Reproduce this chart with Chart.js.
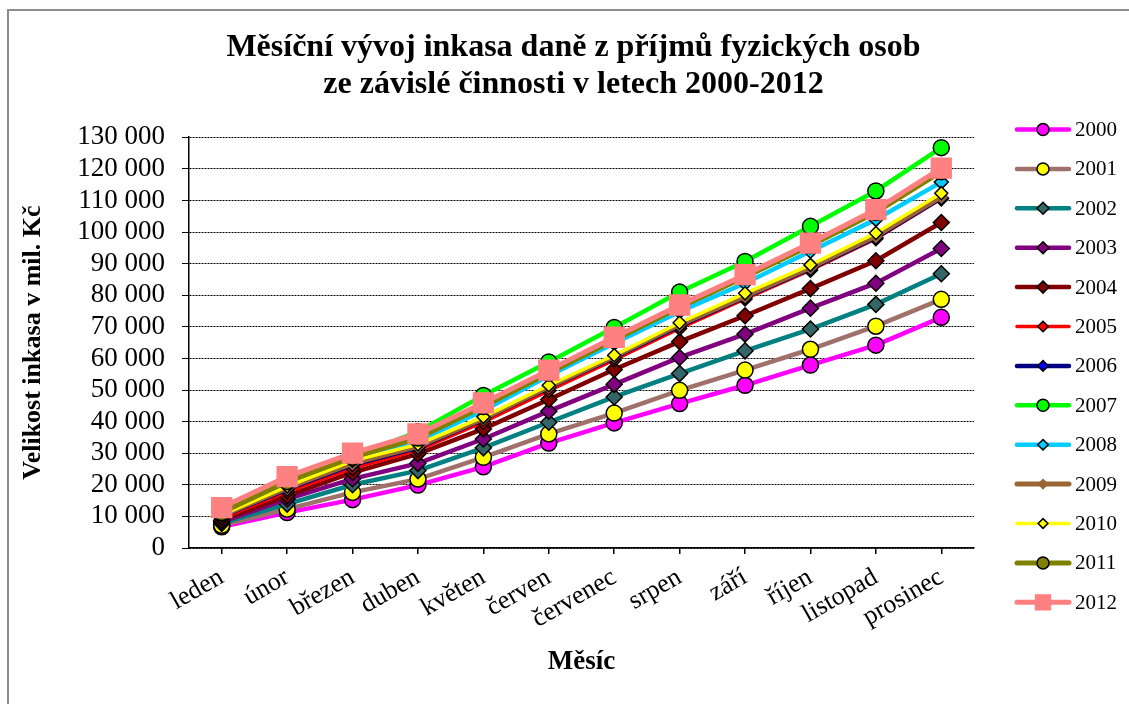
<!DOCTYPE html>
<html>
<head>
<meta charset="utf-8">
<title>Měsíční vývoj inkasa daně</title>
<script src="https://cdn.jsdelivr.net/npm/chart.js"></script>
<style>
  body { margin: 0; background: #fff; }
  #wrap { position: relative; width: 1129px; height: 704px; }
</style>
</head>
<body>
<div id="wrap"><canvas id="chart" width="1129" height="704"></canvas></div>
<script>
// ============================================================
// DATA
// ============================================================

var months = ['leden', 'únor', 'březen', 'duben', 'květen', 'červen',
  'červenec', 'srpen', 'září', 'říjen', 'listopad', 'prosinec'];
var years = ['2000', '2001', '2002', '2003', '2004', '2005', '2006',
  '2007', '2008', '2009', '2010', '2011', '2012'];

var v2000 = [6700, 11200, 15300, 19900, 25700, 33200, 39600, 45700, 51500, 57900, 64200, 73000];
var v2001 = [7200, 12300, 17600, 21800, 28700, 36100, 42700, 49900, 56300, 62900, 70200, 78700];
var v2002 = [7800, 13900, 20000, 24500, 31700, 39800, 47800, 55200, 62400, 69300, 77100, 86800];
var v2003 = [8300, 15500, 21900, 26800, 34500, 43300, 51800, 60300, 67700, 75900, 83800, 94800];
var v2004 = [8800, 16500, 23900, 29800, 37700, 47000, 56500, 65300, 73500, 82100, 90900, 103000];
var v2005 = [9400, 17800, 25200, 31000, 39800, 49800, 59500, 69500, 78800, 87900, 97900, 110500];
var v2006 = [10000, 18600, 26300, 31800, 40800, 50800, 60300, 70300, 79400, 88400, 98300, 110800];
var v2007 = [11500, 20500, 28800, 36800, 48300, 58900, 69800, 81000, 90700, 101800, 113000, 126700];
var v2008 = [10800, 19800, 27500, 33800, 43500, 54500, 64800, 74800, 83800, 93900, 104000, 115800];
var v2009 = [10200, 19000, 26800, 32200, 41000, 51000, 60600, 70700, 79700, 88800, 98700, 111200];
var v2010 = [10500, 19500, 27600, 32800, 41500, 51500, 61000, 71300, 80600, 89600, 99700, 112300];
var v2011 = [11200, 21000, 28700, 34800, 44800, 55400, 65800, 76200, 85800, 95700, 106200, 119100];
var v2012 = [12800, 22600, 30000, 36100, 45900, 56300, 66700, 76900, 86500, 96500, 107100, 120200];

var values = [v2000, v2001, v2002, v2003, v2004, v2005, v2006, v2007, v2008, v2009, v2010, v2011, v2012];

// line colour, marker fill, marker outline, marker shape, marker radius, line width
var lineColors   = ['#FF00FF', '#A0706A', '#008080', '#800080', '#800000', '#FF0000', '#000080',
                    '#00FF00', '#00CCFF', '#996633', '#FFFF00', '#808000', '#FF8080'];
var markerFills  = ['#FF00FF', '#FFFF00', '#336666', '#800080', '#800000', '#FF0000', '#0000FF',
                    '#00FF00', '#00CCFF', '#996633', '#FFFF00', '#808000', '#FF8080'];
var markerEdges  = ['#000', '#000', '#000', '#000', '#000', '#000', '#000',
                    '#000', '#000', '#996633', '#000', '#000', '#FF8080'];
var markerShapes = ['circle', 'circle', 'rectRot', 'rectRot', 'rectRot', 'rectRot', 'rectRot',
                    'circle', 'rectRot', 'rectRot', 'rectRot', 'circle', 'rect'];
var markerSizes  = [8, 8, 8, 8, 8, 7, 7, 8, 7, 6, 6.5, 8, 14];
var lineWidths   = [4.5, 4.5, 4.5, 4.5, 4.5, 3.5, 4.5, 4.5, 4.5, 5, 3.5, 5, 5];

// ============================================================
// HELPERS
// ============================================================

function formatThousands(v) {
  return String(v).replace(/\B(?=(\d{3})+(?!\d))/g, ' ');
}

function drawMarker(ctx, shape, x, y, r, fill, edge) {
  ctx.fillStyle = fill;
  ctx.strokeStyle = edge;
  ctx.lineWidth = 1.5;
  ctx.beginPath();
  if (shape === 'circle') {
    ctx.arc(x, y, r, 0, Math.PI * 2);
  } else if (shape === 'rectRot') {
    ctx.moveTo(x, y - r); ctx.lineTo(x + r, y); ctx.lineTo(x, y + r); ctx.lineTo(x - r, y);
    ctx.closePath();
  } else {
    var s = Math.SQRT1_2 * r;
    ctx.rect(x - s, y - s, 2 * s, 2 * s);
  }
  ctx.fill();
  ctx.stroke();
}

// frame round the whole picture
var framePlugin = {
  id: 'frame',
  beforeDraw: function(chart) {
    var ctx = chart.ctx;
    ctx.save();
    ctx.fillStyle = '#fff';
    ctx.fillRect(0, 0, chart.width, chart.height);
    ctx.strokeStyle = '#8c8c8c';
    ctx.lineWidth = 2;
    ctx.strokeRect(8, 10, 1300, 900);
    ctx.restore();
  }
};

// legend on the right: line sample with marker, then the year
var sideLegend = {
  id: 'sideLegend',
  afterDraw: function(chart) {
    var ctx = chart.ctx;
    years.forEach(function(yr, i) {
      var y = 129.5 + i * 39.4;
      ctx.save();
      ctx.strokeStyle = lineColors[i];
      ctx.lineWidth = lineWidths[i];
      ctx.lineCap = 'round';
      ctx.beginPath(); ctx.moveTo(1017, y); ctx.lineTo(1069, y); ctx.stroke();
      drawMarker(ctx, markerShapes[i], 1043, y, markerSizes[i] * 0.75, markerFills[i], markerEdges[i]);
      ctx.fillStyle = '#000';
      ctx.font = '21px "Liberation Serif"';
      ctx.textBaseline = 'middle';
      ctx.fillText(yr, 1075, y + 1);
      ctx.restore();
    });
  }
};

// ============================================================
// CHART
// ============================================================

Chart.defaults.font.family = '"Liberation Serif", "Times New Roman", serif';
Chart.defaults.color = '#000';

var datasets = years.map(function(yr, i) {
  return {
    label: yr,
    data: values[i],
    borderColor: lineColors[i],
    backgroundColor: lineColors[i],
    borderWidth: lineWidths[i],
    pointStyle: markerShapes[i],
    pointRadius: markerSizes[i],
    pointHoverRadius: markerSizes[i],
    pointBackgroundColor: markerFills[i],
    pointBorderColor: markerEdges[i],
    pointBorderWidth: 1.5,
    tension: 0,
    fill: false,
    order: years.length - i
  };
});

var ctx = document.getElementById('chart').getContext('2d');
var inkasoChart = new Chart(ctx, {
  type: 'line',
  data: { labels: months, datasets: datasets },
  plugins: [framePlugin, sideLegend],
  options: {
    responsive: false,
    devicePixelRatio: 1,
    animation: false,
    layout: { padding: { left: 18, right: 0, top: 0, bottom: 0 } },
    plugins: {
      legend: { display: false },
      tooltip: { enabled: false },
      title: {
        display: true,
        text: ['Měsíční vývoj inkasa daně z příjmů fyzických osob',
               'ze závislé činnosti v letech 2000-2012'],
        font: { size: 32, weight: 'bold', lineHeight: 1.16 },
        color: '#000',
        padding: { top: 29, bottom: 34 }
      }
    },
    scales: {
      x: {
        offset: true,
        grid: { offset: false, drawOnChartArea: false, drawTicks: true, tickLength: 6, color: '#000', lineWidth: 1.5 },
        border: { display: true, color: '#000', width: 1.5 },
        ticks: { font: { size: 26 }, color: '#000', minRotation: 30, maxRotation: 30, padding: 8, autoSkip: false },
        title: { display: true, text: 'Měsíc', font: { size: 27, weight: 'bold' }, color: '#000', padding: { top: 0, bottom: 26 } },
        afterFit: function(s) { s.height = 156; }
      },
      y: {
        min: 0,
        max: 130000,
        grid: { color: '#000', lineWidth: 1, tickLength: 7, tickColor: '#000', tickBorderDash: [] },
        border: { display: true, color: '#000', width: 1.5, dash: [2, 1] },
        ticks: { stepSize: 10000, autoSkip: false, font: { size: 27 }, color: '#000', padding: 17,
          callback: function(v) { return formatThousands(v); } },
        title: { display: true, text: 'Velikost inkasa v mil. Kč', font: { size: 26, weight: 'bold' }, color: '#000', padding: { top: 0, bottom: 0 } },
        afterFit: function(s) { s.width = 171; }
      },
      // empty right-hand axis that keeps room for the legend
      legendSpace: {
        position: 'right',
        display: true,
        min: 0,
        max: 1,
        grid: { display: false },
        border: { display: false },
        ticks: { display: false },
        afterFit: function(s) { s.width = 155; }
      }
    }
  }
});
</script>
</body>
</html>
